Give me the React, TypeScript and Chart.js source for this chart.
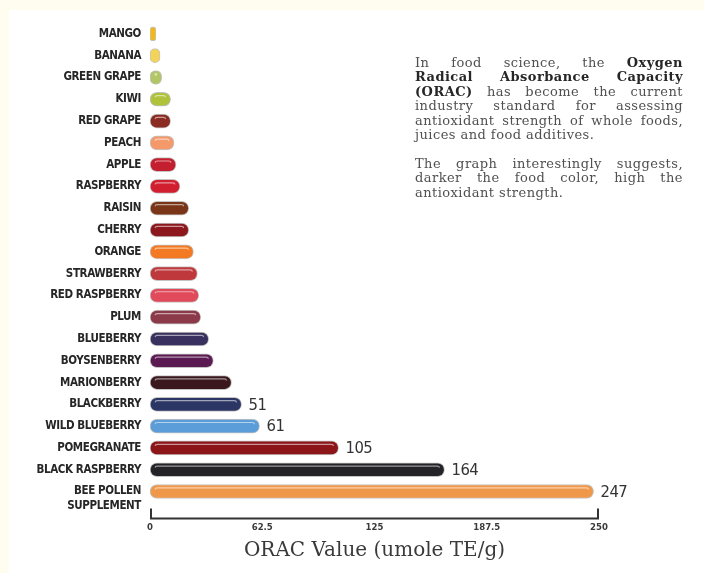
import React, { useEffect, useRef } from "react";
import { Chart, registerables } from "chart.js";

Chart.register(...registerables);

const categories: (string | string[])[] = [
  "MANGO",
  "BANANA",
  "GREEN GRAPE",
  "KIWI",
  "RED GRAPE",
  "PEACH",
  "APPLE",
  "RASPBERRY",
  "RAISIN",
  "CHERRY",
  "ORANGE",
  "STRAWBERRY",
  "RED RASPBERRY",
  "PLUM",
  "BLUEBERRY",
  "BOYSENBERRY",
  "MARIONBERRY",
  "BLACKBERRY",
  "WILD BLUEBERRY",
  "POMEGRANATE",
  "BLACK RASPBERRY",
  ["", "BEE POLLEN", "SUPPLEMENT"],
];

const oracValues = [
  3.3, 5.6, 6.5, 11.5, 11.5, 13.4, 14.5, 16.7, 21.6, 21.6, 24.2, 26.4, 27.2,
  28.3, 32.7, 35.3, 45.4, 51, 61, 105, 164, 247,
];

const barColors = [
  "#f3b814",
  "#f4d458",
  "#b3c666",
  "#afc23a",
  "#8a2c22",
  "#f5996a",
  "#c41f2e",
  "#d21f30",
  "#7a3418",
  "#8c181e",
  "#f37a22",
  "#bf393c",
  "#e04a5a",
  "#8c3a4a",
  "#38305e",
  "#5c1a52",
  "#3a181e",
  "#2b3664",
  "#5a9dd8",
  "#8c151a",
  "#232328",
  "#f0984a",
];

// which bars carry a value label
const labelledBars = [false, false, false, false, false, false, false, false, false, false, false, false, false, false, false, false, false, true, true, true, true, true];

const xTickValues = [0, 62.5, 125, 187.5, 250];
const xAxisTitle = "ORAC Value (umole TE/g)";

const LABEL_FONT = "'Liberation Sans Narrow', 'DejaVu Sans Condensed', 'Arial Narrow', sans-serif";
const SERIF = "'DejaVu Serif', 'Liberation Serif', serif";

const barDecor = {
  id: "barDecor",
  afterDatasetsDraw(chart: any) {
    const ctx = chart.ctx as CanvasRenderingContext2D;
    const meta = chart.getDatasetMeta(0);
    ctx.save();
    meta.data.forEach((bar: any, i: number) => {
      const { x, y, base, height } = bar.getProps(["x", "y", "base", "height"], true);
      const left = Math.min(x, base);
      const right = Math.max(x, base);
      const r = height / 2;
      const hy = y - height * 0.26;
      const x0 = left + r * 0.75;
      const x1 = right - r * 0.75;
      if (x1 > x0 + 1) {
        ctx.beginPath();
        ctx.moveTo(x0, hy + 1.2);
        ctx.quadraticCurveTo(x0, hy, x0 + 2, hy);
        ctx.lineTo(x1 - 2, hy);
        ctx.quadraticCurveTo(x1, hy, x1, hy + 1.2);
        ctx.strokeStyle = "rgba(255,255,255,0.55)";
        ctx.lineWidth = 1.2;
        ctx.lineCap = "round";
        ctx.stroke();
      }
      if (labelledBars[i]) {
        ctx.fillStyle = "#333333";
        ctx.font = `16.5px ${LABEL_FONT}`;
        (ctx as any).letterSpacing = "-0.6px";
        ctx.textAlign = "left";
        ctx.textBaseline = "middle";
        ctx.fillText(String(oracValues[i]), right + 7, y + 1);
      }
    });

    // axis bracket
    const xs = chart.scales.x;
    const ax0 = xs.getPixelForValue(xTickValues[0]);
    const ax1 = xs.getPixelForValue(xTickValues[xTickValues.length - 1]);
    const ay = chart.chartArea.bottom + 16;
    ctx.strokeStyle = "#333333";
    ctx.lineWidth = 2;
    ctx.lineCap = "butt";
    ctx.beginPath();
    ctx.moveTo(ax0 + 1, ay - 10);
    ctx.lineTo(ax0 + 1, ay);
    ctx.lineTo(ax1 - 1, ay);
    ctx.lineTo(ax1 - 1, ay - 10);
    ctx.stroke();
    ctx.restore();
  },
};

function condenseLabels(scale: any, spacing: string) {
  if (scale._condensed) return;
  scale._condensed = true;
  const orig = scale.drawLabels.bind(scale);
  scale.drawLabels = (area: any) => {
    const c = scale.ctx;
    c.save();
    c.letterSpacing = spacing;
    orig(area);
    c.restore();
  };
}

function OracChart() {
  const ref = useRef<HTMLCanvasElement | null>(null);
  useEffect(() => {
    if (!ref.current) return;
    const chart = new Chart(ref.current, {
      type: "bar",
      data: {
        labels: categories as any,
        datasets: [
          {
            data: oracValues,
            backgroundColor: barColors,
            borderColor: "rgba(190,190,190,0.9)",
            borderWidth: 1,
            borderRadius: 7,
            borderSkipped: false,
            barThickness: 14,
          },
        ],
      },
      options: {
        indexAxis: "y",
        responsive: false,
        animation: false,
        layout: { padding: { top: 23, right: 105, left: 0, bottom: 0 } },
        plugins: {
          legend: { display: false },
          tooltip: { enabled: false },
        },
        scales: {
          y: {
            grid: { display: false, drawTicks: false },
            border: { display: false },
            ticks: {
              color: "#262626",
              padding: 9,
              autoSkip: false,
              font: { family: LABEL_FONT, size: 11.5, weight: "bold", lineHeight: 1.3 },
            },
            afterFit(scale: any) {
              scale.width = 150;
              scale.paddingTop = 0;
              scale.paddingBottom = 0;
              condenseLabels(scale, "-0.4px");
            },
          },
          x: {
            min: 0,
            max: 250,
            grid: { display: false, drawTicks: false },
            border: { display: false },
            afterBuildTicks(scale: any) {
              scale.ticks = xTickValues.map((v) => ({ value: v }));
            },
            ticks: {
              color: "#3a3a3a",
              padding: 19,
              autoSkip: false,
              maxRotation: 0,
              font: { family: LABEL_FONT, size: 9.5, weight: "bold" },
              callback: (v: any) => String(v),
            },
            title: {
              display: true,
              text: xAxisTitle,
              color: "#3a3a3a",
              padding: { top: 0, bottom: 10 },
              font: { family: SERIF, size: 20 },
            },
            afterFit(scale: any) {
              scale.height = 70.6;
              scale.paddingLeft = 0;
              scale.paddingRight = 0;
            },
          },
        },
      },
      plugins: [barDecor],
    } as any);
    return () => chart.destroy();
  }, []);
  return (
    <canvas
      ref={ref}
      width={704}
      height={573}
      style={{ position: "absolute", left: 0, top: 0, width: 704, height: 573 }}
    />
  );
}

const lineStyle: React.CSSProperties = {
  textAlign: "justify",
  textAlignLast: "justify",
  height: 14.4,
};
const lastLineStyle: React.CSSProperties = { textAlign: "left", height: 14.4 };
const B: React.CSSProperties = { fontWeight: "bold", color: "#262626" };

export default function App() {
  return (
    <div style={{ position: "fixed", left: 0, top: 0, right: 0, bottom: 0, background: "#fefdf0", overflow: "hidden" }}>
      <div style={{ position: "absolute", left: 9, top: 10, right: 0, bottom: 0, background: "#ffffff" }} />
      <OracChart />
      <div
        style={{
          position: "absolute",
          left: 415,
          top: 56,
          width: 268,
          fontFamily: SERIF,
          fontSize: 13,
          letterSpacing: "0.45px",
          lineHeight: "14.4px",
          color: "#505050",
        }}
      >
        <div style={lineStyle}>
          In food science, the <span style={B}>Oxygen</span>
        </div>
        <div style={lineStyle}>
          <span style={B}>Radical Absorbance Capacity</span>
        </div>
        <div style={lineStyle}>
          <span style={B}>(ORAC)</span> has become the current
        </div>
        <div style={lineStyle}>industry standard for assessing</div>
        <div style={lineStyle}>antioxidant strength of whole foods,</div>
        <div style={lastLineStyle}>juices and food additives.</div>
        <div style={{ height: 14.4 }} />
        <div style={lineStyle}>The graph interestingly suggests,</div>
        <div style={lineStyle}>darker the food color, high the</div>
        <div style={lastLineStyle}>antioxidant strength.</div>
      </div>
    </div>
  );
}
